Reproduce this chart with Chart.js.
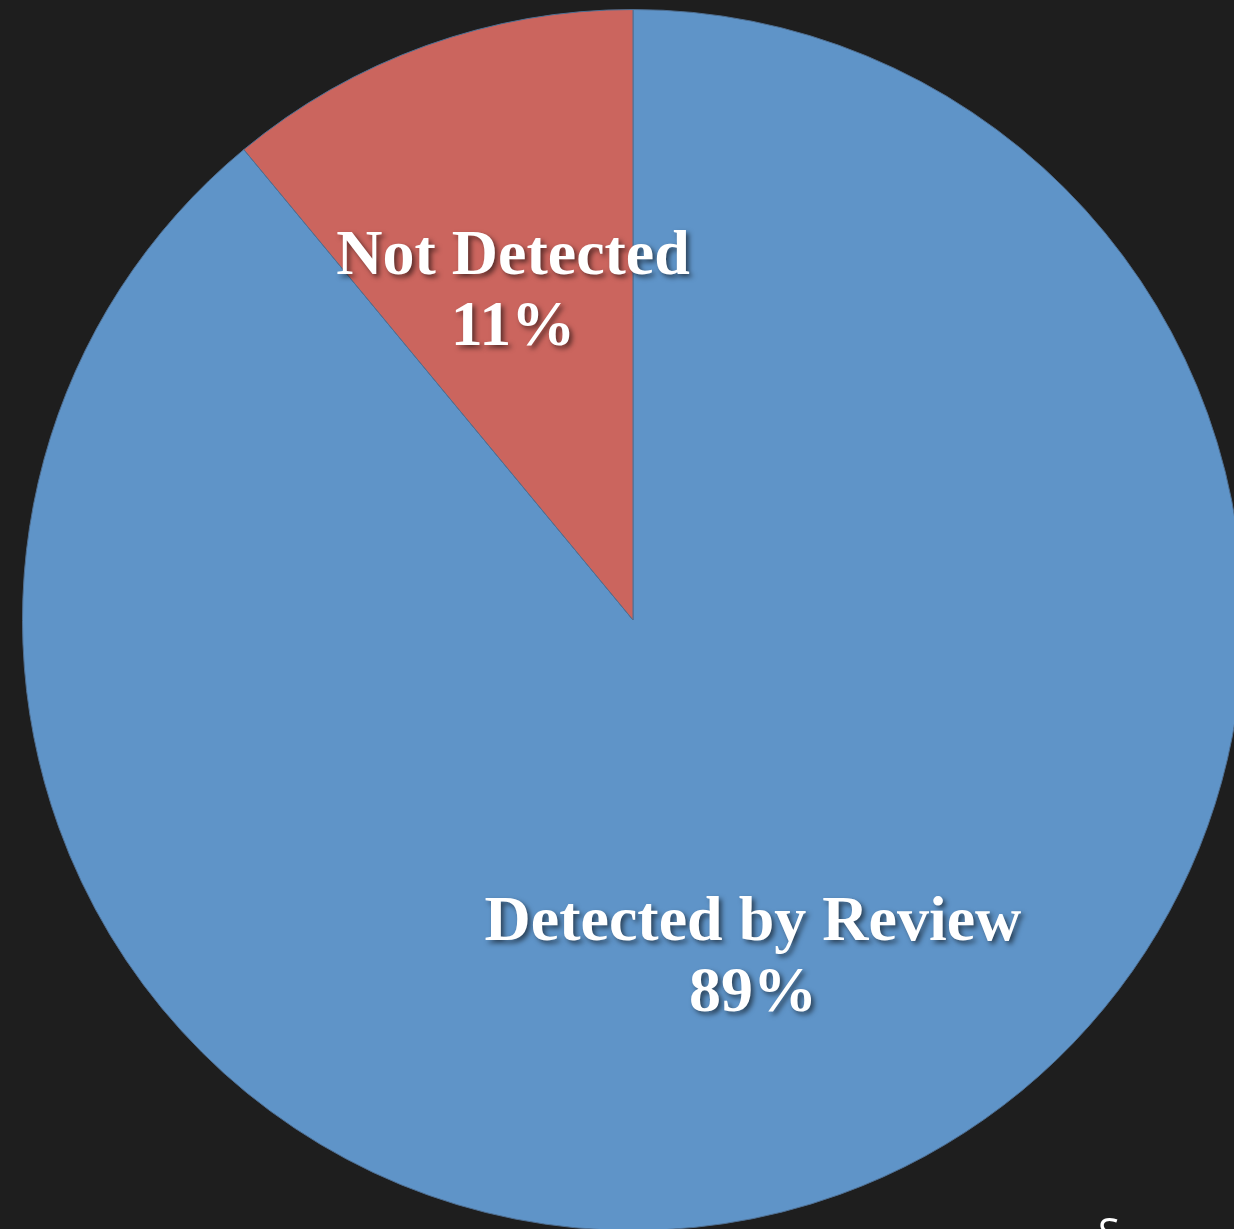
<!DOCTYPE html>
<html>
<head>
<meta charset="utf-8">
<script src="https://cdn.jsdelivr.net/npm/chart.js@4.4.0/dist/chart.umd.min.js"></script>
<style>
  html, body { margin: 0; padding: 0; background: #1e1e1e; overflow: hidden; width: 1234px; height: 1229px; }
  #wrap { position: absolute; left: 0; top: 0; width: 1244px; height: 1231px; }
  #src { position: absolute; left: 1098px; top: 1212px; color: #fff; font: 40px/1 "Open Sans", sans-serif; white-space: nowrap; }
</style>
</head>
<body>
<div id="wrap"><canvas id="pie"></canvas></div>
<div id="src">S</div>
<script>
// chart data
const categories = ["Detected by Review", "Not Detected"];
const values = [89, 11];
const sliceColors = ["#5f94c8", "#cb655e"];

// draws the two-line labels inside each slice (name + percent)
const sliceLabels = {
  id: "sliceLabels",
  afterDatasetsDraw(chart) {
    const ctx = chart.ctx;
    const meta = chart.getDatasetMeta(0);
    const total = values.reduce((a, b) => a + b, 0);
    meta.data.forEach((arc, i) => {
      const p = arc.getProps(["x", "y", "startAngle", "endAngle", "outerRadius"], true);
      const mid = (p.startAngle + p.endAngle) / 2;
      const r = p.outerRadius * 0.58;
      const x = p.x + Math.cos(mid) * r;
      const y = p.y + Math.sin(mid) * r;
      const pct = Math.round(values[i] / total * 100) + "%";
      ctx.save();
      ctx.font = "bold 64px 'Liberation Serif', 'Times New Roman', serif";
      ctx.fillStyle = "#ffffff";
      ctx.textAlign = "center";
      ctx.textBaseline = "alphabetic";
      ctx.shadowColor = "rgba(0,0,0,0.55)";
      ctx.shadowBlur = 5;
      ctx.shadowOffsetX = 3;
      ctx.shadowOffsetY = 3;
      ctx.fillText(categories[i], x, y - 13);
      ctx.fillText(pct, x, y + 58);
      ctx.restore();
    });
  }
};

new Chart(document.getElementById("pie"), {
  type: "pie",
  data: {
    labels: categories,
    datasets: [{
      data: values,
      backgroundColor: sliceColors,
      borderColor: "#4f6f92",
      borderWidth: 1
    }]
  },
  options: {
    responsive: true,
    maintainAspectRatio: false,
    animation: false,
    layout: { padding: { left: 22, top: 9, right: 0, bottom: 0 } },
    plugins: {
      legend: { display: false },
      tooltip: { enabled: false }
    }
  },
  plugins: [sliceLabels]
});
</script>
</body>
</html>
